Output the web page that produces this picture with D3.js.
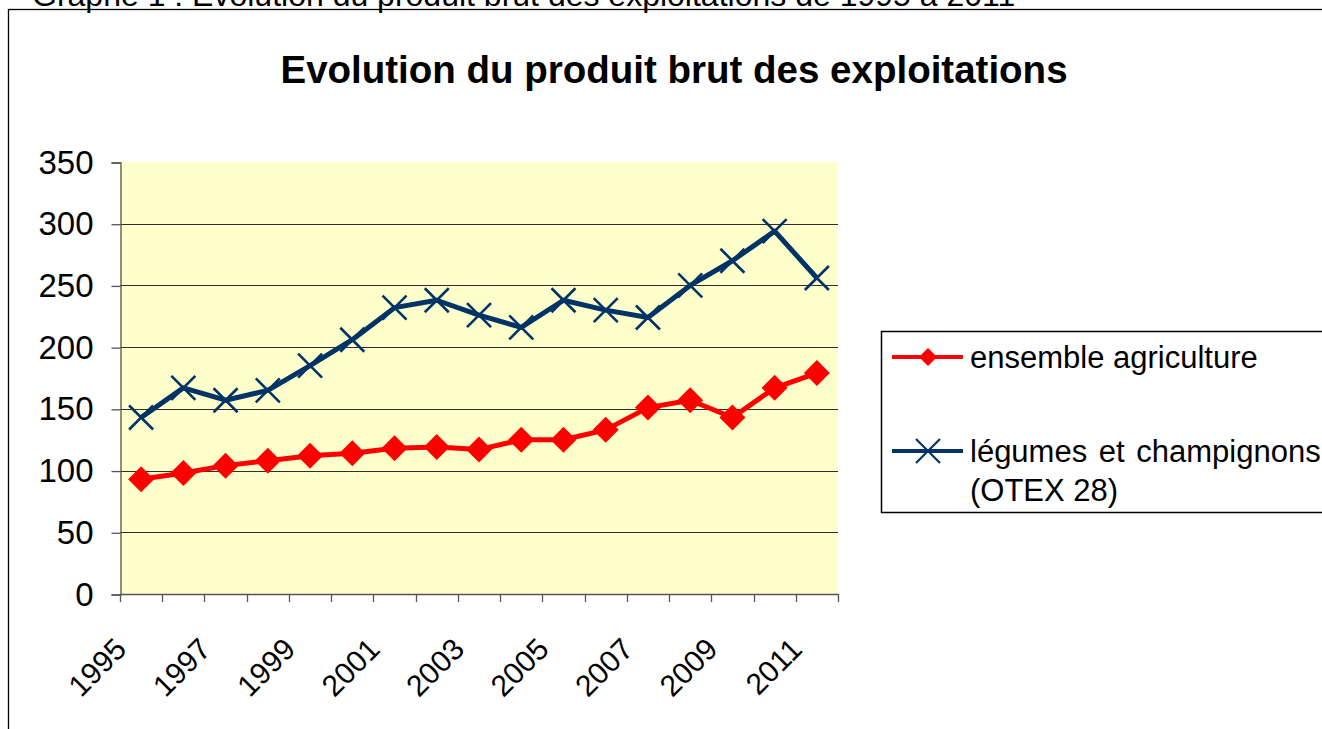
<!DOCTYPE html>
<html><head><meta charset="utf-8">
<script src="https://cdn.jsdelivr.net/npm/d3@7"></script>
<style>
html,body{margin:0;padding:0;background:#fff;overflow:hidden;}
svg{display:block;font-family:Arial,'Liberation Sans',sans-serif;}
</style></head>
<body>
<svg id="c" width="1322" height="729"></svg>
<script>
const years = ["1995","1996","1997","1998","1999","2000","2001","2002","2003","2004","2005","2006","2007","2008","2009","2010","2011"];
const ensembleAgriculture = [93,98,104,108,112,114,118,119,117,125,125,133,151,157,143,167,179];
const legumesChampignons = [143,167,157,165,185,206,232,238,226,216,238,230,224,250,270,294,256];
const yTicks = [0,50,100,150,200,250,300,350];
const xTickLabels = ["1995","1997","1999","2001","2003","2005","2007","2009","2011"];
const seriesNames = ["ensemble agriculture","légumes et champignons","(OTEX 28)"];
const titleText = "Evolution du produit brut des exploitations";
const captionText = "Graphe 1 : Evolution du produit brut des exploitations de 1995 à 2011";

const svg = d3.select("#c");
const plot = {left:120, right:838, top:162, bottom:594};

// caption (partly cut off at top, as in the reference)
svg.append("text").attr("x",32).attr("y",6).attr("font-size",32).attr("fill","#000").text(captionText);

// outer chart border
svg.append("rect").attr("x",8.5).attr("y",9.5).attr("width",1400).attr("height",800)
  .attr("fill","none").attr("stroke","#000").attr("stroke-width",1.3);

// title
svg.append("text").attr("x",674).attr("y",83).attr("text-anchor","middle")
  .attr("font-size",38.5).attr("font-weight","bold").attr("fill","#000").text(titleText);

const x = d3.scaleBand().domain(years).range([plot.left, plot.right]).padding(0);
const y = d3.scaleLinear().domain([0,350]).range([plot.bottom, plot.top]);

// background
svg.append("rect").attr("x",plot.left).attr("y",plot.top)
  .attr("width",plot.right-plot.left).attr("height",plot.bottom-plot.top).attr("fill","#FFFFCC");

// gridlines
svg.append("g").selectAll("line").data(yTicks.filter(d=>d>0 && d<350)).join("line")
  .attr("x1",plot.left).attr("x2",plot.right)
  .attr("y1",d=>Math.round(y(d))+0.5).attr("y2",d=>Math.round(y(d))+0.5)
  .attr("stroke","#2e2e2e").attr("stroke-width",1);

// y axis
const yAxis = d3.axisLeft(y).tickValues(yTicks).tickSize(9).tickPadding(18).tickFormat(d3.format("d"));
const gy = svg.append("g").attr("transform",`translate(${plot.left+0.5},0.5)`).call(yAxis);
gy.select(".domain").attr("stroke","#555").attr("stroke-width",1.3);
gy.selectAll(".tick line").attr("stroke","#555").attr("stroke-width",1.3);
gy.selectAll(".tick text").attr("font-size",33).attr("fill","#000")
  .attr("font-family","Arial,'Liberation Sans',sans-serif");

// x axis: ticks at band boundaries
const boundaries = years.map(d=>x(d)).concat([plot.right]);
const gx = svg.append("g");
gx.append("line").attr("x1",plot.left).attr("x2",plot.right)
  .attr("y1",plot.bottom+0.5).attr("y2",plot.bottom+0.5).attr("stroke","#555").attr("stroke-width",1.3);
gx.selectAll("line.t").data(boundaries).join("line").attr("class","t")
  .attr("x1",d=>Math.round(d)+0.5).attr("x2",d=>Math.round(d)+0.5)
  .attr("y1",plot.bottom).attr("y2",plot.bottom+8).attr("stroke","#555").attr("stroke-width",1.3);
gx.selectAll("text").data(xTickLabels).join("text")
  .attr("transform",d=>`translate(${x(d)+x.bandwidth()/2-13},651) rotate(-45)`)
  .attr("text-anchor","end").attr("font-size",30).attr("fill","#000").text(d=>d);

const cx = d => x(d)+x.bandwidth()/2;
const line = d3.line().x((d,i)=>cx(years[i])).y(d=>y(d));

// blue series
svg.append("path").datum(legumesChampignons).attr("d",line)
  .attr("fill","none").attr("stroke","#003366").attr("stroke-width",5).attr("stroke-linejoin","round");
const xm = 12;
const crossPath = `M${-xm},${-xm}L${xm},${xm}M${-xm},${xm}L${xm},${-xm}`;
svg.append("g").selectAll("path").data(legumesChampignons).join("path")
  .attr("transform",(d,i)=>`translate(${cx(years[i])},${y(d)})`)
  .attr("d",crossPath).attr("stroke","#003366").attr("stroke-width",2.6).attr("fill","none");

// red series
svg.append("path").datum(ensembleAgriculture).attr("d",line)
  .attr("fill","none").attr("stroke","#FF0000").attr("stroke-width",5).attr("stroke-linejoin","round");
const dm = 13;
const diamondPath = `M0,${-dm}L${dm},0L0,${dm}L${-dm},0Z`;
svg.append("g").selectAll("path").data(ensembleAgriculture).join("path")
  .attr("transform",(d,i)=>`translate(${cx(years[i])},${y(d)})`)
  .attr("d",diamondPath).attr("fill","#FF0000");

// legend
const lg = svg.append("g");
lg.append("rect").attr("x",881.5).attr("y",331.5).attr("width",600).attr("height",181)
  .attr("fill","#fff").attr("stroke","#000").attr("stroke-width",1.5);
lg.append("line").attr("x1",892).attr("x2",963).attr("y1",357).attr("y2",357)
  .attr("stroke","#FF0000").attr("stroke-width",4);
lg.append("path").attr("transform","translate(928,357)")
  .attr("d",`M0,-9L9,0L0,9L-9,0Z`).attr("fill","#FF0000");
lg.append("line").attr("x1",892).attr("x2",963).attr("y1",451).attr("y2",451)
  .attr("stroke","#003366").attr("stroke-width",4);
lg.append("path").attr("transform","translate(928,451)")
  .attr("d",`M-12,-12L12,12M-12,12L12,-12`).attr("stroke","#003366").attr("stroke-width",2.2);
lg.append("text").attr("x",970).attr("y",368).attr("font-size",31).attr("fill","#000").text(seriesNames[0]);
lg.append("text").attr("x",970).attr("y",462).attr("font-size",31).attr("word-spacing",3).attr("fill","#000").text(seriesNames[1]);
lg.append("text").attr("x",970).attr("y",501).attr("font-size",31).attr("fill","#000").text(seriesNames[2]);
</script>
</body></html>
